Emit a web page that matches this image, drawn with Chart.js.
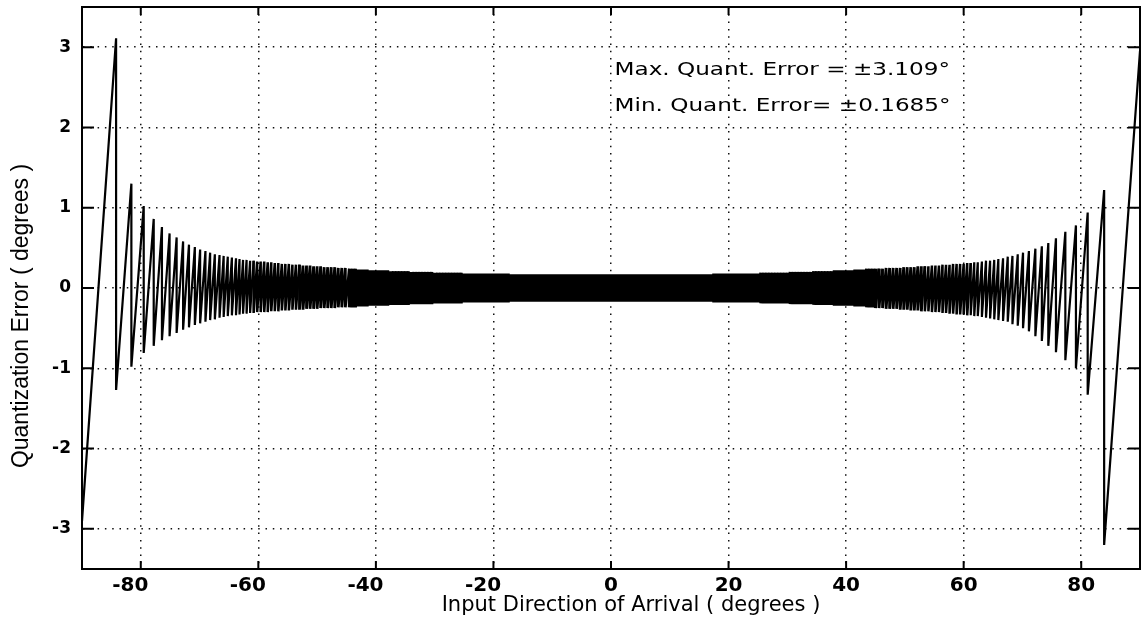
<!DOCTYPE html>
<html>
<head>
<meta charset="utf-8">
<script src="https://cdn.jsdelivr.net/npm/chart.js@4.4.0/dist/chart.umd.min.js"></script>
<style>
  html, body { margin: 0; padding: 0; background: #fff; }
</style>
</head>
<body>
<canvas id="quant" width="1142" height="634"></canvas>
<script>
// tick labels
const xTicks = [-80, -60, -40, -20, 0, 20, 40, 60, 80];
const yTicks = [-3, -2, -1, 0, 1, 2, 3];

// error at the two ends of the sweep
const edgeDeg = [-90, 90];
const edgeErr = [-2.9, 2.95];

// sawtooth: angle of each quantizer step, error just before and just after the step
const dropDeg = [
  -84.2, -81.6, -79.5, -77.8, -76.4, -75.1, -73.9, -72.8, -71.8, -70.8, -69.9, -69.0, -68.2,
  -67.4, -66.6, -65.9, -65.2, -64.5, -63.8, -63.2, -62.6, -62.0, -61.4, -60.8, -60.2,
  -59.6, -59.0, -58.4, -57.8, -57.2, -56.6, -56.0, -55.4, -54.8, -54.2, -53.6, -53.0, -52.4,
  -51.8, -51.2, -50.6, -50.0, -49.4, -48.8, -48.2, -47.6, -47.0, -46.4, -45.8, -45.2,
  -44.5, -44.0, -43.5, -43.0, -42.5, -42.0, -41.5, -41.0, -40.5,
  -40.0, -39.5, -39.0, -38.5, -38.0, -37.5, -37.0, -36.5, -36.0, -35.5,
  -35.0, -34.5, -34.0, -33.5, -33.0, -32.5, -32.0, -31.5, -31.0, -30.5,
  -30.0, -29.5, -29.0, -28.5, -28.0, -27.5, -27.0, -26.5, -26.0, -25.5,
  -25.0, -24.5, -24.0, -23.5, -23.0, -22.5, -22.0, -21.5, -21.0, -20.5,
  -20.0, -19.5, -19.0, -18.5, -18.0, -17.5,
  -17.0, -16.5, -16.0, -15.5, -15.0, -14.5, -14.0, -13.5, -13.0, -12.5,
  -12.0, -11.5, -11.0, -10.5, -10.0, -9.5, -9.0, -8.5, -8.0, -7.5,
  -7.0, -6.5, -6.0, -5.5, -5.0, -4.5, -4.0, -3.5, -3.0, -2.5,
  -2.0, -1.5, -1.0, -0.5, 0.0, 0.5, 1.0, 1.5, 2.0,
  2.5, 3.0, 3.5, 4.0, 4.5, 5.0, 5.5, 6.0, 6.5, 7.0,
  7.5, 8.0, 8.5, 9.0, 9.5, 10.0, 10.5, 11.0, 11.5, 12.0,
  12.5, 13.0, 13.5, 14.0, 14.5, 15.0, 15.5, 16.0, 16.5, 17.0,
  17.5, 18.0, 18.5, 19.0, 19.5, 20.0,
  20.5, 21.0, 21.5, 22.0, 22.5, 23.0, 23.5, 24.0, 24.5, 25.0,
  25.5, 26.0, 26.5, 27.0, 27.5, 28.0, 28.5, 29.0, 29.5, 30.0,
  30.5, 31.0, 31.5, 32.0, 32.5, 33.0, 33.5, 34.0, 34.5, 35.0,
  35.5, 36.0, 36.5, 37.0, 37.5, 38.0, 38.5, 39.0, 39.5, 40.0,
  40.5, 41.0, 41.5, 42.0, 42.5, 43.0, 43.5, 44.0, 44.5,
  45.0, 45.6, 46.2, 46.8, 47.4, 48.0, 48.6, 49.2, 49.8, 50.4, 51.0, 51.6, 52.2,
  52.8, 53.4, 54.0, 54.6, 55.2, 55.8, 56.4, 57.0, 57.6, 58.2, 58.8, 59.4,
  60.0, 60.6, 61.2, 61.8, 62.4, 63.1, 63.8, 64.5, 65.2, 65.9, 66.7, 67.5,
  68.3, 69.2, 70.1, 71.1, 72.2, 73.3, 74.4, 75.7, 77.3, 79.1, 81.1, 83.9
];
const peakErr = [
  3.11, 1.30, 1.02, 0.86, 0.76, 0.68, 0.63, 0.58, 0.54, 0.51, 0.48, 0.46, 0.44,
  0.42, 0.41, 0.40, 0.39, 0.38, 0.37, 0.36, 0.35, 0.35, 0.34, 0.34, 0.33,
  0.33, 0.33, 0.32, 0.32, 0.31, 0.31, 0.30, 0.30, 0.30, 0.29, 0.29, 0.29, 0.28,
  0.28, 0.28, 0.27, 0.27, 0.27, 0.26, 0.26, 0.26, 0.26, 0.25, 0.25, 0.25,
  0.24, 0.24, 0.24, 0.23, 0.23, 0.23, 0.23, 0.22, 0.22,
  0.22, 0.22, 0.22, 0.22, 0.22, 0.21, 0.21, 0.21, 0.21, 0.21,
  0.21, 0.21, 0.20, 0.20, 0.20, 0.20, 0.20, 0.20, 0.20, 0.20,
  0.19, 0.19, 0.19, 0.19, 0.19, 0.19, 0.19, 0.19, 0.19, 0.19,
  0.18, 0.18, 0.18, 0.18, 0.18, 0.18, 0.18, 0.18, 0.18, 0.18,
  0.18, 0.18, 0.18, 0.18, 0.18, 0.18,
  0.17, 0.17, 0.17, 0.17, 0.17, 0.17, 0.17, 0.17, 0.17, 0.17,
  0.17, 0.17, 0.17, 0.17, 0.17, 0.17, 0.17, 0.17, 0.17, 0.17,
  0.17, 0.17, 0.17, 0.17, 0.17, 0.17, 0.17, 0.17, 0.17, 0.17,
  0.17, 0.17, 0.17, 0.17, 0.17, 0.17, 0.17, 0.17, 0.17,
  0.17, 0.17, 0.17, 0.17, 0.17, 0.17, 0.17, 0.17, 0.17, 0.17,
  0.17, 0.17, 0.17, 0.17, 0.17, 0.17, 0.17, 0.17, 0.17, 0.17,
  0.17, 0.17, 0.17, 0.17, 0.17, 0.17, 0.17, 0.17, 0.17, 0.17,
  0.18, 0.18, 0.18, 0.18, 0.18, 0.18,
  0.18, 0.18, 0.18, 0.18, 0.18, 0.18, 0.18, 0.18, 0.18, 0.18,
  0.19, 0.19, 0.19, 0.19, 0.19, 0.19, 0.19, 0.19, 0.19, 0.19,
  0.20, 0.20, 0.20, 0.20, 0.20, 0.20, 0.20, 0.20, 0.21, 0.21,
  0.21, 0.21, 0.21, 0.21, 0.21, 0.22, 0.22, 0.22, 0.22, 0.22,
  0.22, 0.22, 0.23, 0.23, 0.23, 0.23, 0.24, 0.24, 0.24,
  0.24, 0.24, 0.24, 0.25, 0.25, 0.25, 0.25, 0.25, 0.26, 0.26, 0.26, 0.26, 0.27,
  0.27, 0.27, 0.27, 0.28, 0.28, 0.28, 0.29, 0.29, 0.29, 0.30, 0.30, 0.30,
  0.30, 0.31, 0.31, 0.32, 0.32, 0.33, 0.34, 0.34, 0.35, 0.36, 0.37, 0.39,
  0.40, 0.42, 0.44, 0.46, 0.49, 0.52, 0.56, 0.62, 0.70, 0.78, 0.94, 1.22
];
const troughErr = [
  -1.27, -0.98, -0.81, -0.72, -0.65, -0.60, -0.56, -0.52, -0.49, -0.46, -0.44, -0.42, -0.40,
  -0.39, -0.37, -0.36, -0.35, -0.34, -0.34, -0.33, -0.32, -0.32, -0.31, -0.31, -0.30,
  -0.30, -0.30, -0.30, -0.29, -0.29, -0.29, -0.28, -0.28, -0.28, -0.27, -0.27, -0.27, -0.27,
  -0.26, -0.26, -0.26, -0.26, -0.25, -0.25, -0.25, -0.25, -0.25, -0.24, -0.24, -0.24,
  -0.24, -0.24, -0.24, -0.23, -0.23, -0.23, -0.23, -0.22, -0.22,
  -0.22, -0.22, -0.22, -0.22, -0.22, -0.21, -0.21, -0.21, -0.21, -0.21,
  -0.21, -0.21, -0.20, -0.20, -0.20, -0.20, -0.20, -0.20, -0.20, -0.20,
  -0.19, -0.19, -0.19, -0.19, -0.19, -0.19, -0.19, -0.19, -0.19, -0.19,
  -0.18, -0.18, -0.18, -0.18, -0.18, -0.18, -0.18, -0.18, -0.18, -0.18,
  -0.18, -0.18, -0.18, -0.18, -0.18, -0.18,
  -0.17, -0.17, -0.17, -0.17, -0.17, -0.17, -0.17, -0.17, -0.17, -0.17,
  -0.17, -0.17, -0.17, -0.17, -0.17, -0.17, -0.17, -0.17, -0.17, -0.17,
  -0.17, -0.17, -0.17, -0.17, -0.17, -0.17, -0.17, -0.17, -0.17, -0.17,
  -0.17, -0.17, -0.17, -0.17, -0.17, -0.17, -0.17, -0.17, -0.17,
  -0.17, -0.17, -0.17, -0.17, -0.17, -0.17, -0.17, -0.17, -0.17, -0.17,
  -0.17, -0.17, -0.17, -0.17, -0.17, -0.17, -0.17, -0.17, -0.17, -0.17,
  -0.17, -0.17, -0.17, -0.17, -0.17, -0.17, -0.17, -0.17, -0.17, -0.17,
  -0.18, -0.18, -0.18, -0.18, -0.18, -0.18,
  -0.18, -0.18, -0.18, -0.18, -0.18, -0.18, -0.18, -0.18, -0.18, -0.18,
  -0.19, -0.19, -0.19, -0.19, -0.19, -0.19, -0.19, -0.19, -0.19, -0.19,
  -0.20, -0.20, -0.20, -0.20, -0.20, -0.20, -0.20, -0.20, -0.21, -0.21,
  -0.21, -0.21, -0.21, -0.21, -0.21, -0.22, -0.22, -0.22, -0.22, -0.22,
  -0.22, -0.22, -0.23, -0.23, -0.23, -0.23, -0.24, -0.24, -0.24,
  -0.25, -0.25, -0.25, -0.26, -0.26, -0.26, -0.26, -0.27, -0.27, -0.27, -0.28, -0.28, -0.28,
  -0.29, -0.29, -0.29, -0.30, -0.30, -0.30, -0.31, -0.31, -0.32, -0.32, -0.33, -0.33,
  -0.33, -0.34, -0.34, -0.35, -0.35, -0.36, -0.37, -0.38, -0.39, -0.40, -0.41, -0.42,
  -0.45, -0.47, -0.50, -0.54, -0.60, -0.66, -0.72, -0.80, -0.90, -1.00, -1.33, -3.20
];

const notes = ['Max. Quant. Error = ±3.109°', 'Min. Quant. Error= ±0.1685°'];
const noteX = 0.6;
const noteY = [2.71, 2.26];
const xTitle = 'Input Direction of Arrival ( degrees )';
const yTitle = 'Quantization Error ( degrees )';

const points = [{x: edgeDeg[0], y: edgeErr[0]}];
dropDeg.forEach((d, i) => {
  points.push({x: d, y: peakErr[i]});
  points.push({x: d, y: troughErr[i]});
});
points.push({x: edgeDeg[1], y: edgeErr[1]});

// box, inward tick marks, notes and axis titles
const framePlugin = {
  id: 'frame',
  afterDraw(chart) {
    const {ctx, chartArea: a, scales: {x, y}} = chart;
    ctx.save();
    ctx.strokeStyle = '#000';
    ctx.lineWidth = 2;
    ctx.strokeRect(a.left, a.top, a.right - a.left, a.bottom - a.top);
    ctx.beginPath();
    xTicks.forEach(v => {
      const px = x.getPixelForValue(v);
      ctx.moveTo(px, a.bottom); ctx.lineTo(px, a.bottom - 8);
      ctx.moveTo(px, a.top); ctx.lineTo(px, a.top + 8);
    });
    yTicks.forEach(v => {
      const py = y.getPixelForValue(v);
      ctx.moveTo(a.left, py); ctx.lineTo(a.left + 12, py);
      ctx.moveTo(a.right, py); ctx.lineTo(a.right - 12, py);
    });
    ctx.stroke();

    ctx.fillStyle = '#000';
    ctx.font = '17px "DejaVu Sans"';
    ctx.textBaseline = 'middle';
    ctx.textAlign = 'left';
    notes.forEach((t, i) => {
      ctx.save();
      ctx.translate(x.getPixelForValue(noteX), y.getPixelForValue(noteY[i]));
      ctx.scale(1.36, 1);
      ctx.fillText(t, 0, 0);
      ctx.restore();
    });

    ctx.textBaseline = 'alphabetic';
    ctx.textAlign = 'center';
    ctx.font = '21px "DejaVu Sans"';
    ctx.fillText(xTitle, (a.left + a.right) / 2 + 20, a.bottom + 42);

    ctx.save();
    ctx.translate(28, (a.top + a.bottom) / 2 + 28);
    ctx.rotate(-Math.PI / 2);
    ctx.font = '23px "Liberation Sans"';
    ctx.fillText(yTitle, 0, 0);
    ctx.restore();
    ctx.restore();
  }
};

// the dense centre of the sweep prints as a solid band, thinning out towards the ends
const segWidth = c => {
  const d = Math.abs(c.p0.parsed.x);
  if (d <= 45) return 3.2;
  if (d <= 53) return 2.8;
  if (d <= 61) return 2.5;
  return 2.2;
};

const ctx = document.getElementById('quant').getContext('2d');
const quant = new Chart(ctx, {
  type: 'line',
  data: {
    datasets: [{
      data: points,
      borderColor: '#000',
      borderWidth: 2.2,
      pointRadius: 0,
      tension: 0,
      fill: false,
      segment: { borderWidth: segWidth }
    }]
  },
  options: {
    responsive: false,
    animation: false,
    parsing: false,
    layout: { padding: { top: 7, right: 2, left: 0, bottom: 0 } },
    plugins: {
      legend: { display: false },
      tooltip: { enabled: false }
    },
    scales: {
      x: {
        type: 'linear',
        min: -90,
        max: 90,
        afterBuildTicks: s => { s.ticks = xTicks.map(v => ({value: v})); },
        afterFit: s => { s.height = 65; s.paddingLeft = 0; s.paddingRight = 0; },
        grid: { color: '#111', lineWidth: 1.5, drawTicks: false },
        border: { display: true, color: '#000', width: 2, dash: [1.5, 5.8] },
        ticks: {
          padding: 5,
          color: '#000',
          autoSkip: false,
          maxRotation: 0,
          font: { family: 'DejaVu Sans', size: 20, weight: 'bold' },
          callback: v => v < 0 ? v + '   ' : String(v)
        }
      },
      y: {
        type: 'linear',
        min: -3.5,
        max: 3.5,
        afterBuildTicks: s => { s.ticks = yTicks.map(v => ({value: v})); },
        afterFit: s => { s.width = 82; s.paddingTop = 0; s.paddingBottom = 0; },
        grid: { color: '#111', lineWidth: 1.5, drawTicks: false },
        border: { display: true, color: '#000', width: 2, dash: [1.5, 5.8] },
        ticks: {
          padding: 11,
          color: '#000',
          font: { family: 'DejaVu Sans', size: 17, weight: 'bold' },
          callback: v => String(v)
        }
      }
    }
  },
  plugins: [framePlugin]
});
</script>
</body>
</html>
